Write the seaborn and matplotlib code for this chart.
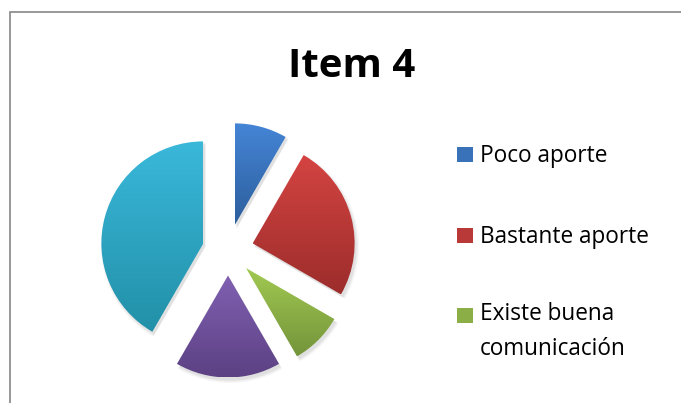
import numpy as np
import matplotlib
matplotlib.use("Agg")
import matplotlib.pyplot as plt
import matplotlib.patches as mpatches
from matplotlib.colors import to_rgb
import seaborn as sns

# data (share of each slice, clockwise from 12 o'clock)
values = [1, 3, 1, 2, 5]
legend_labels = ["Poco aporte", "Bastante aporte", "Existe buena\ncomunicación"]
top_colors = ["#4585d6", "#d44442", "#a2ca52", "#8060b2", "#3ab8da"]
bottom_colors = ["#2c5e9c", "#9c2d2b", "#74943a", "#5c4183", "#2290a8"]

sns.set_style("white")
plt.rcParams["font.family"] = ["Open Sans", "DejaVu Sans"]

W, H = 681, 403
fig = plt.figure(figsize=(W / 100, H / 100), dpi=100)

# pie radius ~102 px, centre at (228, 250) px from top-left
r_px = 102
cx, cy = 228, 250
half = 1.5 * r_px
ax = fig.add_axes([(cx - half) / W, (H - cy - half) / H, 2 * half / W, 2 * half / H])

wedges, _ = ax.pie(values, startangle=90, counterclock=False,
                   explode=[0.25] * len(values), radius=1.0,
                   wedgeprops=dict(linewidth=0))

# vertical gradient inside each wedge
for w, ct, cb in zip(wedges, top_colors, bottom_colors):
    c0, c1 = np.array(to_rgb(ct)), np.array(to_rgb(cb))
    t1, t2 = np.deg2rad(w.theta1), np.deg2rad(w.theta2)
    ang = np.linspace(t1, t2, 100)
    xs = np.r_[w.center[0], w.center[0] + w.r * np.cos(ang)]
    ys = np.r_[w.center[1], w.center[1] + w.r * np.sin(ang)]
    n = 200
    frac = np.linspace(0, 1, n)[:, None]
    grad = (c0 * (1 - frac) + c1 * frac)[:, None, :]
    # soft shadow
    for k, a in enumerate([0.05, 0.04, 0.03]):
        sh = mpatches.Wedge((w.center[0] + 0.02, w.center[1] - 0.03), w.r + 0.012 * k,
                            w.theta1, w.theta2, facecolor="#000000", alpha=a,
                            linewidth=0, zorder=0.5)
        ax.add_patch(sh)
    im = ax.imshow(grad, extent=[xs.min(), xs.max(), ys.min(), ys.max()],
                   origin="upper", aspect="auto", zorder=1, interpolation="bilinear")
    im.set_clip_path(w)
    w.set_facecolor("none")

ax.set_xlim(-1.5, 1.5)
ax.set_ylim(-1.5, 1.5)
ax.set_aspect("auto")
ax.axis("off")

# title
fig.text(352 / W, 1 - 77 / H, "Item 4", ha="center", va="baseline",
         fontsize=29, fontweight="bold", color="black")

# legend (first three entries visible); marker sits on the first line
marker_base = [162, 243, 323]
text_base = [162, 243, 355]
for lab, mb, tb, ct, cb in zip(legend_labels, marker_base, text_base, top_colors, bottom_colors):
    mid = (np.array(to_rgb(ct)) + np.array(to_rgb(cb))) / 2
    fig.patches.append(mpatches.Rectangle((457 / W, 1 - mb / H), 16 / W, 15 / H,
                                          transform=fig.transFigure, facecolor=mid,
                                          linewidth=0, figure=fig))
    fig.text(480 / W, 1 - tb / H, lab, ha="left", va="baseline",
             fontsize=16.3, color="black", linespacing=1.62)

# chart frame (cut off at the right and bottom)
fig.patches.append(mpatches.Rectangle((9.5 / W, -0.2), 2, 1.2 - 11.5 / H,
                                      transform=fig.transFigure, facecolor="none",
                                      edgecolor="#868686", linewidth=1.2, figure=fig))

fig.savefig("out.png", dpi=100)
